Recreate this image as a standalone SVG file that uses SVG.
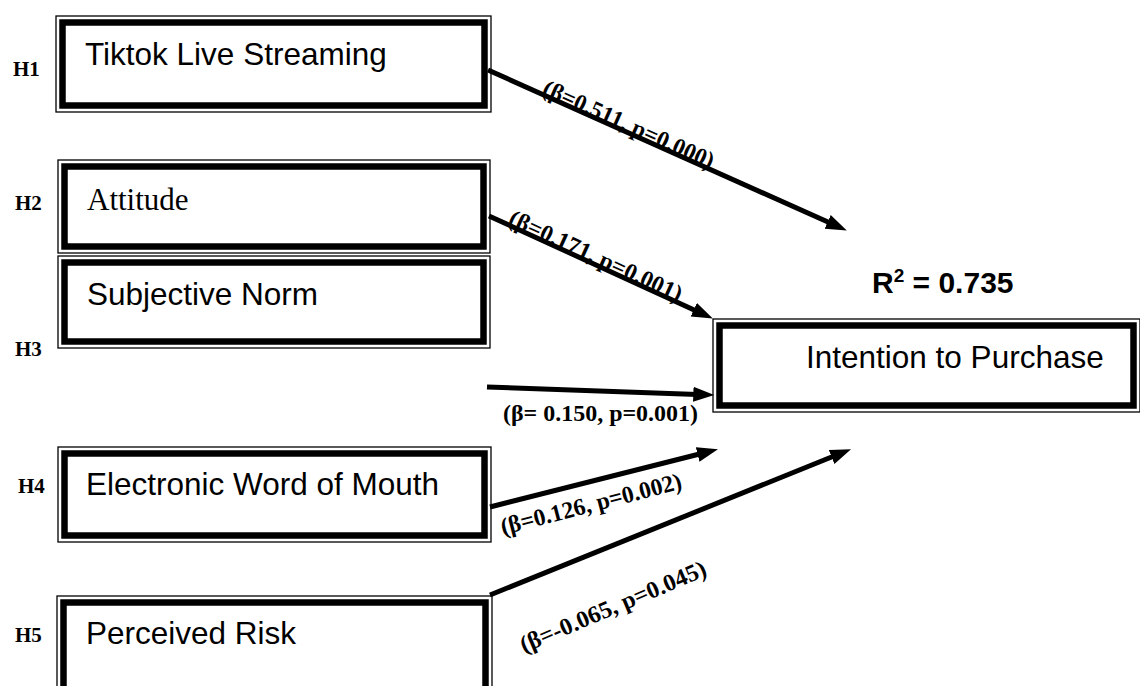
<svg xmlns="http://www.w3.org/2000/svg" width="1140" height="686" viewBox="0 0 1140 686">
<style>
.outer{fill:none;stroke:#000;stroke-width:1.3}
.inner{fill:#fff;stroke:#000;stroke-width:6.5}
.lbl{font-family:"Liberation Sans",Arial,sans-serif;font-size:31.5px;fill:#000}
.lblser{font-family:"Liberation Serif","Times New Roman",serif;font-size:31px;fill:#000}
.h{font-family:"Liberation Serif","Times New Roman",serif;font-weight:bold;font-size:21px;fill:#000}
.coef{font-family:"Liberation Serif","Times New Roman",serif;font-weight:bold;font-size:24px;fill:#000}
.arr{stroke:#000;stroke-width:5;fill:none;marker-end:url(#ah)}
.r2{font-family:"Liberation Sans",Arial,sans-serif;font-weight:bold;font-size:30px;fill:#000}
</style>
<defs>
<marker id="ah" markerUnits="userSpaceOnUse" markerWidth="22" markerHeight="16" refX="4" refY="7.5" orient="auto">
<path d="M0,0 L21,7.5 L0,15 z" fill="#000"/>
</marker>
</defs>
<rect width="1140" height="686" fill="#fff"/>

<g id="connectors">
<line class="arr" x1="488" y1="70" x2="831.3" y2="223.5"/>
<line class="arr" x1="489" y1="216" x2="697.4" y2="311.4"/>
<line class="arr" x1="487" y1="387" x2="697.3" y2="394.4"/>
<line class="arr" x1="490" y1="507" x2="701.5" y2="453.5"/>
<line class="arr" x1="490" y1="595" x2="835.3" y2="455.5"/>
<text class="coef" transform="translate(541,94) rotate(24)" textLength="185" lengthAdjust="spacingAndGlyphs">(β=0.511, p=0.000)</text>
<text class="coef" transform="translate(507,224) rotate(24.6)" textLength="188" lengthAdjust="spacingAndGlyphs">(β=0.171, p=0.001)</text>
<text class="coef" x="503" y="421" textLength="195" lengthAdjust="spacingAndGlyphs">(β= 0.150, p=0.001)</text>
<text class="coef" transform="translate(503,535) rotate(-14.5)" textLength="186" lengthAdjust="spacingAndGlyphs">(β=0.126, p=0.002)</text>
<text class="coef" transform="translate(524,653) rotate(-23)" textLength="200" lengthAdjust="spacingAndGlyphs">(β=-0.065, p=0.045)</text>
</g>

<g id="node-tiktok">
<rect class="outer" x="56" y="16" width="435" height="96"/>
<rect class="inner" x="62.5" y="22.5" width="422" height="83"/>
<text class="lbl" x="85" y="65">Tiktok Live Streaming</text>
<text class="h" x="13" y="76">H1</text>
</g>

<g id="node-attitude">
<rect class="outer" x="58" y="160" width="432" height="93"/>
<rect class="inner" x="64.5" y="166.5" width="419" height="80"/>
<text class="lblser" x="87" y="210">Attitude</text>
<text class="h" x="15" y="210">H2</text>
</g>

<g id="node-subjective">
<rect class="outer" x="58" y="256" width="432" height="92"/>
<rect class="inner" x="64.5" y="262.5" width="419" height="79"/>
<text class="lbl" x="87" y="305">Subjective Norm</text>
<text class="h" x="15" y="356">H3</text>
</g>

<g id="node-ewom">
<rect class="outer" x="58" y="447" width="433" height="95"/>
<rect class="inner" x="64.5" y="453.5" width="420" height="82"/>
<text class="lbl" x="86" y="495">Electronic Word of Mouth</text>
<text class="h" x="18" y="493">H4</text>
</g>

<g id="node-risk">
<rect class="outer" x="57" y="596" width="435" height="110"/>
<rect class="inner" x="63.5" y="602.5" width="422" height="97"/>
<text class="lbl" x="86" y="644">Perceived Risk</text>
<text class="h" x="15" y="642">H5</text>
</g>

<g id="node-intention">
<rect class="outer" x="713" y="319" width="427" height="93"/>
<rect class="inner" x="719.5" y="325.5" width="414" height="80"/>
<text class="lbl" x="806" y="368">Intention to Purchase</text>
<text class="r2" x="872" y="293">R<tspan font-size="19" dy="-11">2</tspan><tspan dy="11"> = 0.735</tspan></text>
</g>
</svg>
